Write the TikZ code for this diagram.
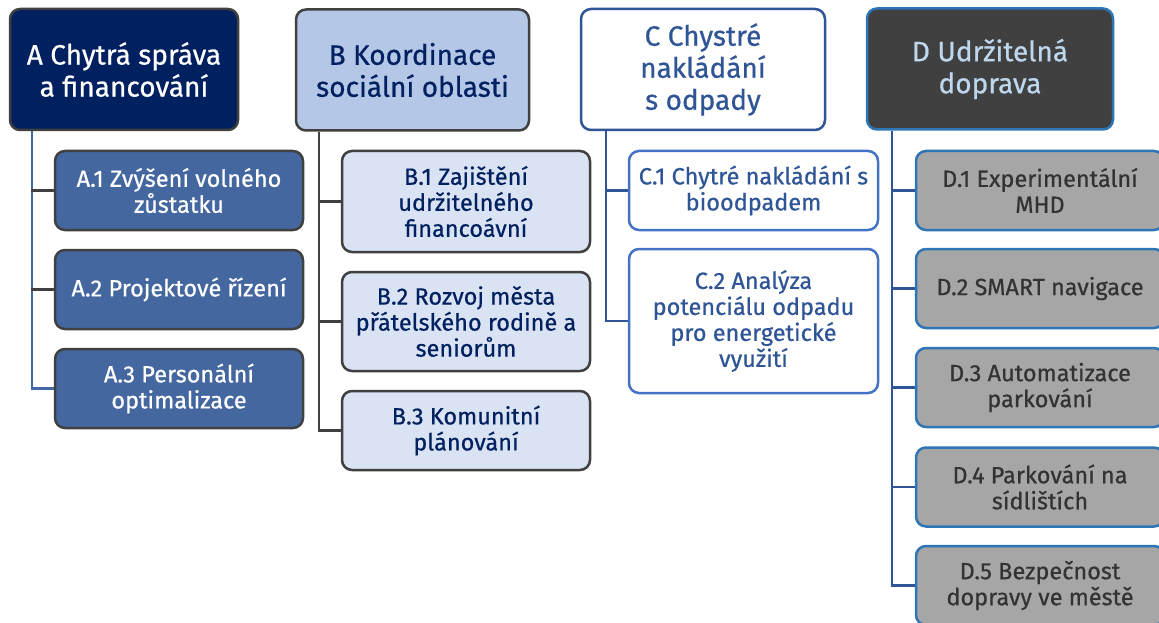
\documentclass[tikz,border=0pt]{standalone}
\usepackage{fontspec}
\setmainfont{Fira Sans}[FakeBold=0.6]
\usetikzlibrary{backgrounds}
\definecolor{navy}{HTML}{002060}
\definecolor{dgray}{HTML}{404040}
\definecolor{ablue}{HTML}{44679F}
\definecolor{aline}{HTML}{4468A6}
\definecolor{bhead}{HTML}{B4C7E7}
\definecolor{bkid}{HTML}{DAE3F3}
\definecolor{cblue}{HTML}{2F5597}
\definecolor{ckid}{HTML}{4472C4}
\definecolor{dborder}{HTML}{2E75B6}
\definecolor{dtext}{HTML}{BDD7EE}
\definecolor{dkid}{HTML}{A6A6A6}
\definecolor{dkidtext}{HTML}{333333}
\begin{document}
\begin{tikzpicture}[x=1pt,y=1pt,
  box/.style={rounded corners=10pt, line width=2.5pt, align=center, inner sep=1pt},
  hdr/.style={box, font=\fontsize{28}{32}\selectfont, minimum height=121pt},
  kid/.style={box, font=\fontsize{23.5}{26}\selectfont, minimum width=248pt},
  ahead/.style={hdr, fill=navy, draw=dgray, text=white},
  akid/.style={kid, fill=ablue, draw=dgray, text=white, minimum height=79pt},
  bhd/.style={hdr, fill=bhead, draw=dgray, text=navy},
  bkd/.style={kid, fill=bkid, draw=dgray, text=navy},
  chd/.style={hdr, fill=white, draw=cblue, text=cblue},
  ckd/.style={kid, fill=white, draw=ckid, text=cblue},
  dhd/.style={hdr, fill=dgray, draw=dborder, text=dtext},
  dkd/.style={kid, fill=dkid, draw=dborder, text=dkidtext, minimum height=79pt},
  conn/.style={line width=2.5pt}
]
\useasboundingbox (0,0) rectangle (1159,-623);
% A
\node[ahead, minimum width=228pt] (Ah) at (124,-69.5) {A Chytrá správa\\a financování};
\node[akid] (A1) at (179,-190.5) {A.1 Zvýšení volného\\zůstatku};
\node[akid] (A2) at (179,-289.5) {A.2 Projektové řízení};
\node[akid] (A3) at (179,-388.5) {A.3 Personální\\optimalizace};
% B
\node[bhd, minimum width=233pt] (Bh) at (412.5,-70) {B Koordinace\\sociální oblasti};
\node[bkd, minimum height=101pt] (B1) at (466,-201.5) {B.1 Zajištění\\udržitelného\\financoávní};
\node[bkd, minimum height=99pt] (B2) at (466,-321.5) {B.2 Rozvoj města\\přátelského rodině a\\seniorům};
\node[bkd, minimum height=79pt] (B3) at (466,-430.5) {B.3 Komunitní\\plánování};
% C
\node[chd, minimum width=244pt] (Ch) at (703,-69.5) {C Chystré\\nakládání\\s odpady};
\node[ckd, minimum width=249pt, minimum height=79pt] (C1) at (753.5,-190.5) {C.1 Chytré nakládání s\\bioodpadem};
\node[ckd, minimum width=249pt, minimum height=144pt] (C2) at (753.5,-321) {C.2 Analýza\\potenciálu odpadu\\pro energetické\\využití};
% D
\node[dhd, minimum width=246pt] (Dh) at (990,-69) {D Udržitelná\\doprava};
\node[dkd] (D1) at (1040,-190.5) {D.1 Experimentální\\MHD};
\node[dkd] (D2) at (1040,-288.5) {D.2 SMART navigace};
\node[dkd] (D3) at (1040,-387.5) {D.3 Automatizace\\parkování};
\node[dkd] (D4) at (1040,-487) {D.4 Parkování na\\sídlištích};
\node[dkd] (D5) at (1040,-585.5) {D.5 Bezpečnost\\dopravy ve městě};
% connectors
\begin{scope}[on background layer]
\draw[conn, aline] (Ah.south west) ++(23,0) |- (A3.west);
\draw[conn, dgray] (A1.west) -- ++(-23,0);
\draw[conn, dgray] (A2.west) -- ++(-23,0);
\draw[conn, dgray] (Bh.south west) ++(24,0) |- (B3.west);
\draw[conn, dgray] (B1.west) -- ++(-23,0);
\draw[conn, dgray] (B2.west) -- ++(-23,0);
\draw[conn, cblue] (Ch.south west) ++(26,0) |- (C2.west);
\draw[conn, cblue] (C1.west) -- ++(-23,0);
\draw[conn, cblue] (Dh.south west) ++(26,0) |- (D5.west);
\draw[conn, cblue] (D1.west) -- ++(-24,0);
\draw[conn, cblue] (D2.west) -- ++(-24,0);
\draw[conn, cblue] (D3.west) -- ++(-24,0);
\draw[conn, cblue] (D4.west) -- ++(-24,0);
\end{scope}
\end{tikzpicture}
\end{document}
